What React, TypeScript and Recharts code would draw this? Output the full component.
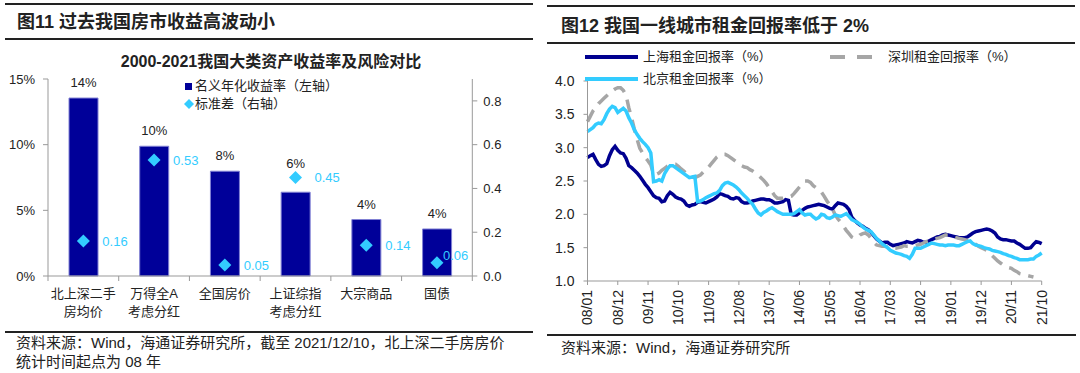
import React from 'react';
import { ComposedChart, LineChart, Bar, Line, XAxis, YAxis, LabelList } from 'recharts';

// left chart: 2000-2021 asset returns vs risk
const assetNames = ['北上深二手\n房均价', '万得全A\n考虑分红', '全国房价', '上证综指\n考虑分红', '大宗商品', '国债'];
const annualReturn = [13.55, 9.88, 7.98, 6.38, 4.3, 3.58];
const stdDev = [0.16, 0.53, 0.05, 0.45, 0.14, 0.06];
const leftTicks = [0, 5, 10, 15];
const rightTicks = [0, 0.2, 0.4, 0.6, 0.8];

// right chart: monthly rent yield, 2008/01 - 2021/10
const months: string[] = [];
for (let y = 2008, m = 1; months.length < 166; ) {
  months.push(`${String(y % 100).padStart(2, '0')}/${String(m).padStart(2, '0')}`);
  m++;
  if (m > 12) { m = 1; y++; }
}

const shanghai = [
  2.85, 2.88, 2.90, 2.82, 2.75, 2.72, 2.73, 2.76, 2.88, 2.97, 3.02, 2.96,
  2.92, 2.91, 2.84, 2.73, 2.70, 2.66, 2.62, 2.57, 2.51, 2.45, 2.40, 2.34,
  2.28, 2.25, 2.24, 2.19, 2.20, 2.28, 2.33, 2.30, 2.26, 2.24, 2.23, 2.20,
  2.14, 2.12, 2.14, 2.15, 2.18, 2.19, 2.18, 2.17, 2.19, 2.21, 2.23, 2.26,
  2.31, 2.30, 2.28, 2.27, 2.24, 2.23, 2.25, 2.24, 2.19, 2.17, 2.17, 2.18,
  2.20, 2.21, 2.22, 2.23, 2.23, 2.22, 2.22, 2.20, 2.17, 2.17, 2.18, 2.19,
  2.22, 2.21, 2.00, 1.99, 1.99, 2.02, 2.06, 2.09, 2.11, 2.12, 2.13, 2.14,
  2.15, 2.14, 2.13, 2.11, 2.09, 2.08, 2.13, 2.17, 2.16, 2.15, 2.12, 2.07,
  1.96, 1.91, 1.87, 1.84, 1.82, 1.79, 1.77, 1.73, 1.68, 1.63, 1.60, 1.57,
  1.58, 1.58, 1.55, 1.53, 1.54, 1.55, 1.56, 1.57, 1.59, 1.58, 1.57, 1.59,
  1.61, 1.60, 1.58, 1.58, 1.60, 1.62, 1.64, 1.66, 1.67, 1.69, 1.70, 1.69,
  1.68, 1.67, 1.66, 1.65, 1.65, 1.65, 1.66, 1.69, 1.72, 1.74, 1.75, 1.76,
  1.77, 1.78, 1.77, 1.75, 1.72, 1.66, 1.63, 1.62, 1.62, 1.61, 1.60, 1.60,
  1.57, 1.55, 1.52, 1.49, 1.49, 1.50, 1.55, 1.59, 1.58, 1.56,
];

const beijing = [
  3.24, 3.27, 3.30, 3.35, 3.37, 3.36, 3.42, 3.51, 3.58, 3.62, 3.60, 3.53,
  3.56, 3.59, 3.55, 3.45, 3.37, 3.27, 3.20, 3.14, 3.09, 3.05, 3.00, 2.92,
  2.49, 2.50, 2.52, 2.50, 2.61, 2.68, 2.73, 2.73, 2.70, 2.67, 2.64, 2.61,
  2.58, 2.55, 2.56, 2.57, 2.19, 2.20, 2.22, 2.25, 2.27, 2.29, 2.31, 2.32,
  2.36, 2.43, 2.47, 2.48, 2.46, 2.44, 2.41, 2.37, 2.32, 2.28, 2.24, 2.19,
  2.15, 2.08, 2.02, 1.99, 2.03, 2.05, 2.08, 2.10, 2.07, 2.04, 2.02, 2.00,
  2.00, 2.00, 2.00, 2.01, 2.04, 2.07, 2.02, 1.99, 2.00, 2.00, 1.96, 1.93,
  1.95, 2.00, 1.99, 1.95, 1.94, 1.96, 1.99, 1.98, 1.97, 1.99, 2.01, 1.97,
  1.92, 1.90, 1.88, 1.85, 1.81, 1.78, 1.76, 1.74, 1.69, 1.64, 1.60, 1.56,
  1.53, 1.50, 1.46, 1.44, 1.42, 1.41, 1.40, 1.38, 1.37, 1.34, 1.40, 1.49,
  1.49, 1.49, 1.51, 1.53, 1.55, 1.57, 1.56, 1.55, 1.54, 1.54, 1.53, 1.54,
  1.54, 1.54, 1.53, 1.53, 1.55, 1.57, 1.59, 1.60, 1.56, 1.54, 1.53, 1.52,
  1.50, 1.49, 1.48, 1.46, 1.45, 1.44, 1.43, 1.41, 1.40, 1.38, 1.37, 1.35,
  1.34, 1.32, 1.32, 1.32, 1.32, 1.33, 1.33, 1.37, 1.39, 1.42,
];

const shenzhen = [
  3.39, 3.47, 3.55, 3.60, 3.66, 3.70, 3.74, 3.78, 3.82, 3.85, 3.88, 3.90,
  3.90, 3.86, 3.79, 3.60, 3.45, 3.28, 3.13, 2.99, 2.92, 2.85, 2.80, 2.74,
  2.60, 2.60, 2.62, 2.66, 2.69, 2.72, 2.74, 2.75, 2.75, 2.72, 2.68, 2.65,
  2.61, 2.58, 2.56, 2.55, 2.57, 2.59, 2.63, 2.67, 2.71, 2.76, 2.81, 2.86,
  2.89, 2.90, 2.90, 2.88, 2.85, 2.82, 2.79, 2.76, 2.73, 2.71, 2.70, 2.67,
  2.65, 2.62, 2.59, 2.55, 2.51, 2.46, 2.40, 2.34, 2.28, 2.24, 2.24, 2.24,
  2.25, 2.26, 2.27, 2.31, 2.36, 2.41, 2.46, 2.50, 2.50, 2.48, 2.43, 2.40,
  2.37, 2.33, 2.27, 2.20, 2.14, 2.08, 1.99, 1.93, 1.88, 1.82, 1.76, 1.71,
  1.66, 1.64, 1.65, 1.69, 1.71, 1.72, 1.69, 1.64, 1.58, 1.54, 1.53, 1.52,
  1.52, 1.51, 1.50, 1.49, 1.49, 1.50, 1.51, 1.53, 1.52, 1.52, 1.53, 1.53,
  1.54, 1.55, 1.57, 1.59, 1.60, 1.62, 1.63, 1.64, 1.65, 1.67, 1.69, 1.69,
  1.68, 1.66, 1.65, 1.64, 1.63, 1.62, 1.61, 1.59, 1.57, 1.55, 1.52, 1.50,
  1.48, 1.46, 1.42, 1.38, 1.34, 1.30, 1.27, 1.24, 1.22, 1.20, 1.19, 1.16,
  1.14, 1.11, 1.10, 1.09, 1.08, 1.07, 1.06, null, null, null,
];
const rentTicks = [1, 1.5, 2, 2.5, 3, 3.5, 4];

const NAVY = '#000090';
const SKY = '#33CCFF';
const GREY = '#A6A6A6';
const AXIS = '#999';
const FONT = '"Liberation Sans", "Noto Sans CJK SC", sans-serif';

const assetData = assetNames.map((name, i) => ({ name, ret: annualReturn[i], std: stdDev[i] }));
const rentData = months.map((month, i) => ({ month, sh: shanghai[i], sz: shenzhen[i], bj: beijing[i] }));

// left plot geometry
const L_W = 530;
const L_RIGHT_AXIS = 50;
const L_MARGIN_R = 7.7;
const L_Y_W = 48;
const BAND = (L_W - L_RIGHT_AXIS - L_MARGIN_R - L_Y_W) / assetNames.length;

const AssetTick = (props: any) => {
  const { x, y, payload, index } = props;
  const lines = String(payload.value).split('\n');
  return (
    <g>
      {index === 0 && <line x1={x - BAND / 2} x2={x - BAND / 2} y1={y - 5} y2={y} stroke={AXIS} />}
      <line x1={x + BAND / 2} x2={x + BAND / 2} y1={y - 5} y2={y} stroke={AXIS} />
      <text x={x} y={y} textAnchor="middle" fontSize={13} fill="#222">
        {lines.map((l, i) => (
          <tspan key={i} x={x} dy={i === 0 ? 16.5 : 18}>{l}</tspan>
        ))}
      </text>
    </g>
  );
};

// bar value label; lifted higher where the diamond sits just above the bar
const ReturnLabel = (props: any) => {
  const { x, y, width, value, index } = props;
  const lift = index === 3 ? 24 : 11;
  return (
    <text x={x + width / 2} y={y - lift} textAnchor="middle" fontSize={13} fill="#222">
      {`${Math.round(Number(value))}%`}
    </text>
  );
};

const Diamond = (props: any) => {
  const { cx, cy, index } = props;
  if (cx == null || cy == null) return <g key={index} />;
  return (
    <polygon
      key={index}
      points={`${cx},${cy - 6.5} ${cx + 6.5},${cy} ${cx},${cy + 6.5} ${cx - 6.5},${cy}`}
      fill={SKY}
    />
  );
};

const StdLabel = (props: any) => {
  const { x, y, value, index } = props;
  const last = index === stdDev.length - 1;
  return (
    <text x={x + (last ? 6 : 19)} y={y + (last ? -7 : 0)} dy="0.35em" fontSize={13} fill={SKY}>
      {Number(value).toFixed(2)}
    </text>
  );
};

const MonthTick = (props: any) => {
  const { x, y, payload } = props;
  return (
    <text x={x} y={y} transform={`rotate(-90, ${x}, ${y})`} textAnchor="end" dy="0.35em" fontSize={14} fill="#222">
      {payload.value}
    </text>
  );
};

const rule = (left: number, top: number, width: number) => (
  <div style={{ position: 'absolute', left, top, width, height: 2, background: '#222' }} />
);

const txt = (left: number, top: number, text: string, style: React.CSSProperties = {}) => (
  <div style={{ position: 'absolute', left, top, whiteSpace: 'nowrap', ...style }}>{text}</div>
);

export default function App() {
  return (
    <div style={{ position: 'absolute', left: 0, top: 0, width: 1080, height: 373, background: '#fff', fontFamily: FONT, color: '#222', overflow: 'hidden' }}>
      {/* left panel frame */}
      {rule(5, 3, 528)}
      {txt(17, 13, '图11 过去我国房市收益高波动小', { fontSize: 18, fontWeight: 'bold', lineHeight: '18px' })}
      {rule(5, 38, 528)}
      <div style={{ position: 'absolute', left: 0, top: 54, width: 542, textAlign: 'center', fontSize: 16, fontWeight: 'bold', lineHeight: '16px' }}>
        2000-2021我国大类资产收益率及风险对比
      </div>

      <div style={{ position: 'absolute', left: 0, top: 0 }}>
        <ComposedChart width={L_W} height={330} data={assetData} margin={{ top: 79, right: L_MARGIN_R, bottom: 4, left: 0 }}>
          <XAxis
            dataKey="name"
            interval={0}
            height={50}
            tickLine={false}
            tickSize={5}
            tickMargin={0}
            axisLine={{ stroke: AXIS }}
            tick={<AssetTick />}
          />
          <YAxis
            yAxisId="left"
            domain={[0, 15]}
            ticks={leftTicks}
            tickFormatter={(v) => `${v}%`}
            width={L_Y_W}
            tickSize={5}
            tickMargin={8}
            axisLine={{ stroke: AXIS }}
            tickLine={{ stroke: AXIS }}
            tick={{ fontSize: 13, fill: '#222' }}
          />
          <YAxis
            yAxisId="right"
            orientation="right"
            domain={[0, 0.9]}
            ticks={rightTicks}
            tickFormatter={(v) => Number(v).toFixed(1)}
            width={L_RIGHT_AXIS}
            tickSize={5}
            tickMargin={6}
            axisLine={{ stroke: AXIS }}
            tickLine={{ stroke: AXIS }}
            tick={{ fontSize: 13, fill: '#222', textAnchor: 'start' }}
          />
          <Bar yAxisId="left" dataKey="ret" barSize={29} fill="#000099" stroke="#8080d4" strokeWidth={1} isAnimationActive={false}>
            <LabelList dataKey="ret" content={<ReturnLabel />} />
          </Bar>
          <Line
            yAxisId="right"
            dataKey="std"
            stroke="none"
            dot={(p: any) => <Diamond key={p.index} {...p} />}
            activeDot={false}
            label={(p: any) => <StdLabel key={p.index} {...p} />}
            isAnimationActive={false}
          />
        </ComposedChart>
      </div>

      {/* left legend */}
      <div style={{ position: 'absolute', left: 185, top: 83, width: 7, height: 7, background: '#000099' }} />
      {txt(195, 78, '名义年化收益率（左轴）', { fontSize: 13, lineHeight: '16px' })}
      <svg style={{ position: 'absolute', left: 183, top: 98 }} width={12} height={12}>
        <polygon points="6,1 11,6 6,11 1,6" fill={SKY} />
      </svg>
      {txt(195, 96, '标准差（右轴）', { fontSize: 13, lineHeight: '16px' })}

      {rule(5, 331, 528)}
      {txt(16, 334, '资料来源：Wind，海通证券研究所，截至 2021/12/10，北上深二手房房价', { fontSize: 15, lineHeight: '18px' })}
      {txt(16, 353, '统计时间起点为 08 年', { fontSize: 15, lineHeight: '18px' })}

      {/* right panel frame */}
      {rule(547, 5, 528)}
      {txt(561, 17, '图12 我国一线城市租金回报率低于 2%', { fontSize: 18, fontWeight: 'bold', lineHeight: '18px' })}
      {rule(547, 42, 528)}

      <div style={{ position: 'absolute', left: 540, top: 40 }}>
        <LineChart width={530} height={300} data={rentData} margin={{ top: 41, right: 28.3, bottom: 14, left: 0 }}>
          <XAxis
            dataKey="month"
            interval={10}
            height={45}
            tickSize={4}
            tickMargin={5}
            axisLine={{ stroke: AXIS }}
            tickLine={{ stroke: AXIS }}
            tick={<MonthTick />}
          />
          <YAxis
            domain={[1, 4]}
            ticks={rentTicks}
            tickFormatter={(v) => Number(v).toFixed(1)}
            width={47.5}
            tickSize={4}
            tickMargin={9}
            axisLine={{ stroke: AXIS }}
            tickLine={{ stroke: AXIS }}
            tick={{ fontSize: 14, fill: '#222' }}
          />
          <Line dataKey="sh" stroke={NAVY} strokeWidth={3.5} dot={false} activeDot={false} isAnimationActive={false} />
          <Line dataKey="sz" stroke={GREY} strokeWidth={3.5} strokeDasharray="13 8" dot={false} activeDot={false} isAnimationActive={false} />
          <Line dataKey="bj" stroke={SKY} strokeWidth={3.5} dot={false} activeDot={false} isAnimationActive={false} />
        </LineChart>
      </div>

      {/* right legend */}
      <svg style={{ position: 'absolute', left: 583, top: 50 }} width={300} height={36}>
        <line x1={2} x2={55} y1={7} y2={7} stroke={NAVY} strokeWidth={4} />
        <line x1={2} x2={55} y1={29} y2={29} stroke={SKY} strokeWidth={4} />
        <line x1={247} x2={291} y1={7} y2={7} stroke={GREY} strokeWidth={4} strokeDasharray="15 12" />
      </svg>
      {txt(643, 49, '上海租金回报率（%）', { fontSize: 13, lineHeight: '16px' })}
      {txt(643, 71, '北京租金回报率（%）', { fontSize: 13, lineHeight: '16px' })}
      {txt(888, 49, '深圳租金回报率（%）', { fontSize: 13, lineHeight: '16px' })}

      {rule(547, 334, 529)}
      {txt(561, 339, '资料来源：Wind，海通证券研究所', { fontSize: 15, lineHeight: '18px' })}
    </div>
  );
}
